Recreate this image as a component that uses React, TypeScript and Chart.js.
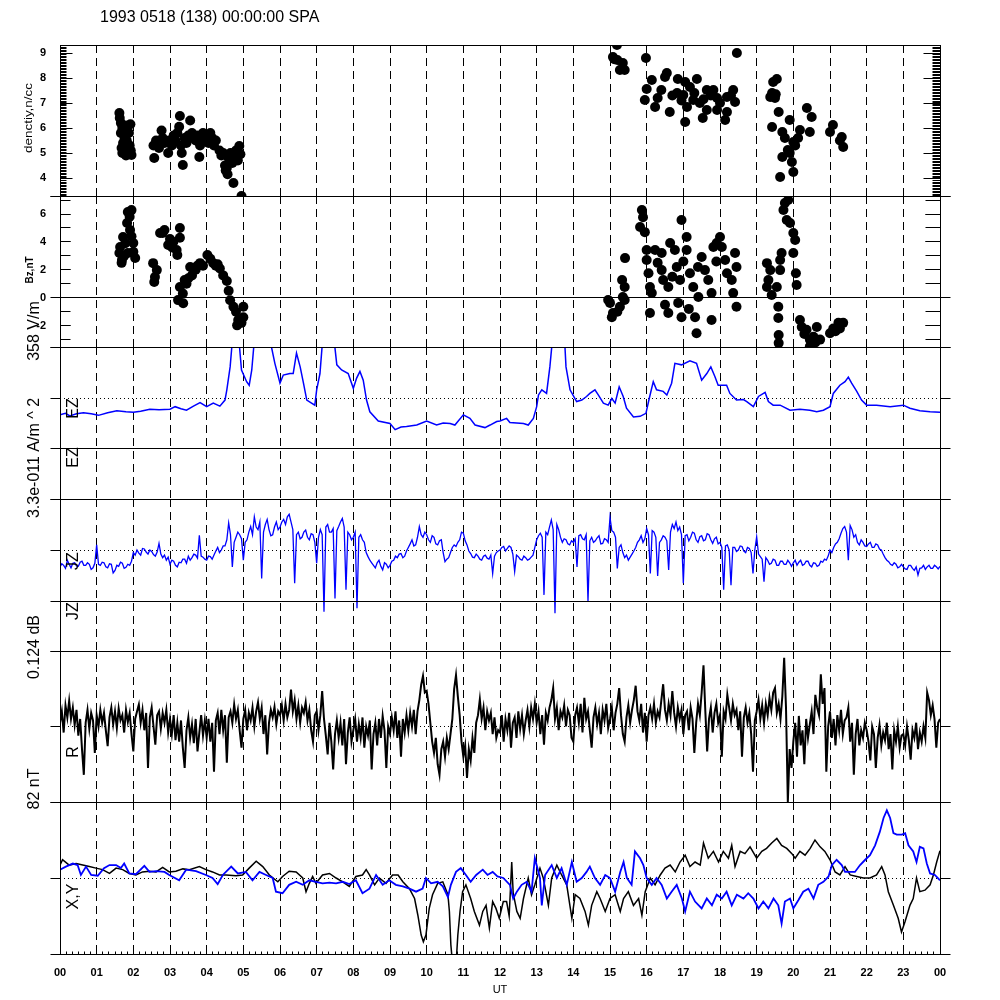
import React, { useEffect, useRef } from 'react';
import { Chart, registerables } from 'chart.js';

Chart.register(...registerables);

// ---------------- text & ticks ----------------
const TITLE = '1993 0518 (138) 00:00:00 SPA';
const HOUR_LABELS = ['00', '01', '02', '03', '04', '05', '06', '07', '08', '09', '10', '11', '12',
  '13', '14', '15', '16', '17', '18', '19', '20', '21', '22', '23', '00'];
const DENSITY_TICKS = [4, 5, 6, 7, 8, 9];
const BZ_TICKS = [-2, 0, 2, 4, 6];

// ---------------- data ----------------
// density, n/cc : [UT hour, value]
const densityPoints: [number, number][] = [
  [1.62, 6.6], [1.63, 6.4], [1.66, 6.2], [1.7, 6.0], [1.76, 6.1], [1.86, 6.1], [1.92, 6.15], [1.66, 5.8],
  [1.76, 5.6], [1.72, 5.4], [1.68, 5.2], [1.76, 5.0], [1.8, 4.9], [1.9, 5.3], [1.93, 5.1], [1.88, 5.8],
  [1.82, 5.5], [1.95, 4.92], [1.86, 4.95], [1.7, 5.0],
  [2.57, 4.8], [2.55, 5.3], [2.62, 5.5], [2.7, 5.2], [2.77, 5.9], [2.8, 5.6], [2.85, 5.4], [2.95, 5.0],
  [2.98, 5.5], [3.05, 5.3], [3.1, 5.7], [3.15, 5.5], [3.2, 5.8], [3.25, 6.05], [3.27, 6.48], [3.3, 5.3],
  [3.35, 4.52], [3.32, 5.0], [3.4, 5.6], [3.55, 6.3], [3.45, 5.4],
  [3.5, 5.7], [3.6, 5.8], [3.65, 5.6], [3.7, 5.5], [3.75, 5.7], [3.8, 4.84], [3.82, 5.3], [3.9, 5.8],
  [3.95, 5.5], [4.0, 5.7], [4.05, 5.4], [4.1, 5.8], [4.15, 5.6], [4.2, 5.3], [3.85, 5.55], [4.25, 5.5],
  [4.35, 5.1], [4.4, 4.9], [4.45, 5.0], [4.5, 4.5], [4.52, 4.3], [4.57, 4.15], [4.6, 4.8], [4.65, 5.0],
  [4.7, 4.6], [4.73, 3.8], [4.75, 4.9], [4.8, 5.1], [4.85, 4.7], [4.89, 5.28], [4.92, 4.95], [4.95, 3.28],
  [4.55, 4.4], [4.68, 4.95],
  [15.19, 9.32], [15.08, 8.84], [15.2, 8.72], [15.35, 8.6], [15.4, 8.32], [15.27, 8.32], [15.12, 8.75],
  [15.98, 8.8], [18.46, 9.0],
  [16.14, 7.92], [16.0, 7.56], [15.95, 7.12], [16.23, 6.84], [16.55, 8.2], [16.5, 8.04], [16.4, 7.52],
  [16.63, 6.64], [16.85, 7.96], [17.05, 7.84], [17.37, 7.96], [17.0, 7.32], [17.05, 6.24], [17.1, 6.84],
  [17.27, 7.12], [17.53, 6.4], [17.45, 7.0], [17.64, 7.52], [17.82, 7.52], [17.92, 7.2], [17.92, 6.72],
  [18.14, 6.32], [18.19, 6.64], [18.36, 7.52], [18.41, 7.04], [18.19, 7.24], [17.64, 6.72], [16.83, 7.4],
  [17.18, 7.64], [16.7, 7.3], [16.95, 7.1], [17.3, 7.4], [17.75, 7.3], [18.0, 7.0], [18.3, 7.3],
  [16.3, 7.2], [17.55, 7.15],
  [19.45, 7.84], [19.55, 7.96], [19.42, 7.4], [19.5, 7.2], [19.37, 7.24], [19.52, 7.35],
  [19.6, 6.64], [19.42, 6.04], [19.7, 5.84], [19.9, 6.32], [19.77, 5.6], [20.0, 5.44], [19.85, 5.12],
  [19.7, 4.84], [19.64, 4.04], [20.0, 4.24], [19.96, 4.64], [20.18, 5.92], [20.13, 5.6], [20.37, 6.8],
  [20.5, 6.44], [20.45, 5.84], [21.0, 5.84], [21.08, 6.12], [21.32, 5.64], [21.36, 5.24], [21.27, 5.5],
  [19.9, 5.0], [20.05, 5.3],
];

// Bz, nT : [UT hour, value]
const bzPoints: [number, number][] = [
  [1.85, 6.14], [1.95, 6.28], [1.83, 5.35], [1.9, 5.8], [1.72, 4.35], [1.64, 3.63], [1.69, 2.7], [2.0, 3.92],
  [2.05, 2.85], [1.91, 4.85], [1.85, 3.2], [1.62, 3.2], [1.75, 3.0], [1.78, 3.9], [1.95, 4.4], [2.0, 3.3],
  [1.68, 2.5],
  [2.54, 2.48], [2.59, 1.48], [2.64, 1.98], [2.57, 1.13], [2.73, 4.64], [2.8, 4.64], [2.95, 3.78],
  [3.18, 3.42], [3.27, 5.0], [3.27, 4.3], [3.09, 4.0], [2.85, 4.85], [3.06, 3.6], [3.2, 3.06], [3.0, 4.2],
  [3.22, -0.17], [3.36, -0.4], [3.27, 0.77], [3.4, 1.27], [3.35, 0.3], [3.45, 1.0], [3.55, 2.2], [3.6, 1.6],
  [3.7, 2.0], [3.82, 2.48], [3.9, 2.3], [4.02, 3.06], [4.1, 2.8], [4.18, 2.48], [4.25, 2.3], [4.36, 2.1],
  [4.45, 1.6], [4.55, 1.2], [4.6, 0.5], [4.64, -0.18], [4.73, -0.65], [4.8, -1.0], [4.86, -1.6],
  [4.83, -1.98], [5.0, -0.65], [5.0, -1.4], [4.95, -1.8], [3.5, 1.4], [4.3, 2.4], [3.75, 2.3],
  [15.0, -0.37], [15.08, -1.1], [15.27, -0.65], [15.4, -0.16], [14.95, -0.16], [15.33, 1.27], [15.4, 0.77],
  [15.35, 0.05], [15.05, -1.4], [15.2, -1.0], [15.41, 2.84],
  [15.87, 6.29], [15.82, 5.07], [15.95, 4.7], [15.9, 5.77],
  [16.0, 3.42], [16.0, 2.7], [16.05, 1.76], [16.09, 0.77], [16.14, 0.34], [16.09, -1.1], [16.23, 3.42],
  [16.41, 3.2], [16.41, 1.98], [16.45, 1.27], [16.59, 0.77], [16.59, -1.1], [16.64, 3.92], [16.77, 3.42],
  [16.82, 2.2], [16.91, 1.27], [16.95, 5.57], [16.86, -0.37], [16.95, -1.4], [17.09, 4.35], [17.09, 3.42],
  [17.18, 1.76], [17.27, 0.77], [17.32, -1.4], [17.36, -2.55], [17.41, 0.05], [17.5, 2.92], [17.59, 1.98],
  [17.68, 1.27], [17.77, -1.6], [17.77, 0.34], [17.82, 3.63], [17.91, 3.92], [18.0, 4.35], [18.05, 3.63],
  [18.14, 2.7], [18.19, 1.76], [18.32, 1.27], [18.36, 0.34], [18.45, -0.65], [18.41, 3.2], [18.45, 2.2],
  [16.3, 2.5], [16.7, 1.5], [17.0, 2.6], [17.4, 2.2], [17.9, 2.6], [16.5, -0.5], [17.15, -0.8],
  [19.28, 2.48], [19.37, 1.98], [19.28, 0.77], [19.41, 0.2], [19.64, 1.98], [19.68, 3.2], [19.64, 2.7],
  [19.59, -0.65], [19.59, -1.45], [19.6, -2.67], [19.6, -3.25], [19.32, 1.27], [19.55, 0.77],
  [19.77, 6.79], [19.86, 7.0], [19.73, 6.29], [19.82, 5.57], [19.91, 5.35], [20.0, 4.64], [20.05, 4.14],
  [20.0, 3.2], [20.07, 1.76], [20.09, 0.91],
  [20.18, -1.6], [20.23, -2.1], [20.36, -2.3], [20.45, -3.0], [20.64, -2.1], [20.55, -2.8], [20.73, -3.0],
  [20.45, -3.5], [20.3, -2.6], [20.6, -3.2],
  [21.0, -2.55], [21.09, -2.2], [21.23, -1.8], [21.36, -1.8], [21.27, -2.2], [21.15, -2.4],
];

// EZ (relative units, 100 = panel top) : [UT hour, value]
const ezPoints: [number, number][] = [
  [0, -33], [0.15, -30], [0.27, -35], [0.45, -31], [0.64, -29], [0.85, -31], [1.05, -34], [1.3, -29],
  [1.55, -25], [1.8, -27], [2.0, -28], [2.2, -26], [2.45, -22], [2.7, -23], [3.0, -22], [3.14, -17],
  [3.3, -21], [3.45, -24], [3.64, -16], [3.82, -9], [4.0, -17], [4.18, -10], [4.36, -16], [4.5, -4],
  [4.55, 16], [4.64, 61], [4.68, 95], [4.72, 130], [4.86, 130], [4.95, 55], [5.09, 32], [5.16, 25],
  [5.23, 55], [5.32, 130], [5.68, 130], [5.86, 68], [6.0, 29], [6.09, 45], [6.27, 48], [6.36, 48],
  [6.45, 88], [6.55, 61], [6.64, 29], [6.73, -4], [6.86, -10], [6.95, -14], [7.0, 16], [7.09, 48],
  [7.18, 130], [7.45, 130], [7.55, 65], [7.68, 55], [7.86, 48], [8.0, 19], [8.09, 39], [8.18, 52],
  [8.27, 35], [8.36, -4], [8.45, -27], [8.68, -45], [9.0, -50], [9.14, -62], [9.3, -57], [9.45, -56],
  [9.73, -53], [10.0, -45], [10.27, -53], [10.45, -49], [10.64, -50], [10.77, -53], [11.0, -33],
  [11.18, -40], [11.32, -53], [11.59, -58], [11.73, -53], [11.91, -46], [12.0, -45], [12.18, -40],
  [12.27, -48], [12.64, -50], [12.77, -53], [12.91, -40], [13.0, -17], [13.05, 6], [13.14, 16], [13.27, 9],
  [13.36, 61], [13.45, 130], [13.75, 130], [13.8, 61], [13.91, 16], [14.09, -7], [14.23, -4], [14.36, 3],
  [14.45, 9], [14.59, 16], [14.68, 6], [14.82, -10], [14.95, -14], [15.05, -1], [15.14, -10], [15.25, 22],
  [15.36, 3], [15.45, -20], [15.64, -37], [15.82, -36], [15.98, -30], [16.07, -1], [16.18, 32], [16.27, 16],
  [16.45, 13], [16.55, 6], [16.68, 29], [16.77, 68], [16.95, 65], [17.18, 73], [17.36, 68], [17.5, 35],
  [17.64, 48], [17.75, 61], [17.86, 42], [17.95, 25], [18.18, 25], [18.27, 9], [18.45, -4], [18.64, -3],
  [18.73, -7], [18.91, -17], [19.05, 3], [19.23, 11], [19.32, -7], [19.45, -14], [19.64, -14], [19.91, -24],
  [20.18, -22], [20.45, -24], [20.64, -27], [20.82, -24], [21.0, -17], [21.09, 9], [21.27, 25], [21.41, 32],
  [21.5, 41], [21.59, 29], [21.73, 13], [21.86, -4], [22.0, -14], [22.27, -14], [22.64, -17], [23.0, -14],
  [23.18, -20], [23.45, -25], [23.73, -27], [24.0, -28],
];

// JZ (relative units), one sample every 3 minutes from 00 UT
const JZ_STEP_HOURS = 0.05;
const jzValues: number[] = [
  -33, -27, -30, -36, -20, -28, -35, -26, -25, -31, -32, -24, -22, -30, -30, -25, -28, -38, -35, -26,
  10, -28, -30, -24, -25, -33, -35, -27, -28, -45, -40, -30, -32, -24, -26, -36, -34, -28, -30, -22,
  -5, -10, 0, -6, -10, 3, 2, -4, -8, 0, -3, -9, -12, -4, 13, -8, -15, -10, -20, -14,
  -28, -20, -22, -30, -33, -24, -25, -18, -18, -26, -12, -20, -15, -8, -10, -16, 29, -12, -14, -18,
  -20, -12, -13, -18, -10, -2, 5, -5, 0, 8, 8, 20, 53, 30, -33, 15, 25, 35, 30, 22,
  -20, 15, 20, 35, 46, 30, 65, 45, 40, 55, -56, 35, 50, 60, 40, 28, 30, 45, 55, 40,
  45, 55, 60, 50, 65, 70, 55, 40, -65, 30, 35, 22, 25, 35, 39, 25, 20, 32, 30, 15,
  -26, 25, 40, 30, -121, 45, 50, 35, 35, 42, -95, 38, 46, 55, 62, 45, -78, 35, 30, 20,
  25, 35, -114, 25, 30, 20, 15, -5, -13, -20, -25, -30, -35, -25, -20, -32, -39, -25, -28, -35,
  -30, -22, -20, -12, -15, -8, -7, -15, -12, -2, 5, 12, 20, 8, 10, 25, 46, 30, 25, 35,
  30, 20, 15, 28, 25, 12, 10, 18, 20, -5, -23, -18, -15, -5, 5, 10, 7, 15, 20, 35,
  33, 18, 10, -2, -7, -14, -15, -8, -12, -18, -20, -12, -10, -16, -18, -10, -46, -12, -5, -2,
  0, 5, 7, -2, 3, 8, 5, -8, -42, -10, -13, -18, -20, -12, -15, -20, -18, -14, -10, 5,
  20, 28, 33, 25, -88, 35, 30, 45, 59, 40, -124, 50, 40, 25, 15, 22, 20, 12, 10, 18,
  15, 22, -33, 28, 30, 22, 20, 30, -101, 18, 25, 15, 18, 24, 28, 12, 13, 22, 20, 15,
  64, 38, 35, 25, -36, 5, 10, -5, -15, -10, -20, -14, -8, -2, 5, 15, 20, 28, 15, 22,
  42, 30, -46, 38, 35, 25, -51, 15, 20, 28, 25, 18, -39, 35, 50, 42, 55, 38, 45, 30,
  -65, 28, 30, 18, 25, 35, 33, 20, 15, 26, 28, 18, 20, 32, 30, 20, 13, 22, 25, 12,
  15, 5, -78, 8, 10, 0, -69, 5, 5, -3, 0, 8, 7, -2, -5, 5, 3, -5, -46, 0,
  26, -8, -13, -18, -62, -15, -20, -28, -26, -18, -20, -30, -30, -22, -22, -28, -28, -20, -25, -32,
  -25, -20, -30, -24, -20, -30, -28, -22, -22, -30, -33, -25, -26, -32, -30, -22, -24, -18, -20, -12,
  0, -5, 5, 12, 15, 22, 33, 42, 46, 35, -20, 48, 40, 25, 30, 15, 10, 20, 15, 8,
  7, 12, 15, 5, 5, 12, 10, 2, 0, -8, -15, -20, -23, -28, -30, -25, -28, -35, -33, -28,
  -33, -37, -38, -30, -30, -36, -40, -33, -49, -36, -35, -30, -38, -33, -30, -36, -36, -30, -33, -37,
  -32,
];

// R (relative units), one sample every 3 minutes from 00 UT
const R_STEP_HOURS = 0.05;
const rValues: number[] = [
  5, 20, -8, 28, 12, 34, 10, 25, 2, 22, -12, 10, -30, -64, 5, 22, -3, 18, 8, -35,
  15, 0, 22, 5, 18, -5, -26, 12, 25, 3, 20, -2, 24, 8, 15, -8, 22, 6, 18, -10,
  -33, 10, 20, 29, 5, 22, -5, 18, -55, 12, 25, 0, -24, 15, 20, -3, 18, 5, 22, -8,
  10, -10, 15, -18, 5, -20, 8, -28, -55, -5, 12, -15, 3, -22, 10, -33, -8, 15, -12, 8,
  -15, 10, -20, 5, -60, 8, 18, -10, 22, -5, 15, -48, 12, 20, 5, 29, 10, 22, -5, -28,
  10, 22, -5, 18, 8, 25, 0, 20, 32, 10, 25, -10, 15, -37, 5, 22, 12, 26, 3, 20,
  15, 28, 8, 30, 12, 22, 49, 20, 35, 10, 28, 5, 25, 18, 32, 8, 22, -5, -20, 15,
  20, -5, 15, 47, 10, -12, -37, 5, -20, -57, -10, 8, -15, 5, -25, 10, -50, -8, 12, -20,
  -5, 10, -20, 3, -15, 12, -28, 0, -12, 8, -57, -10, 5, -25, 10, -15, 14, -5, -55, 0,
  -10, 12, -5, 20, -15, 8, -40, 10, -8, 15, -5, 18, 0, 22, -10, 20, 35, 55, 67, 45,
  47, 30, 5, -20, -35, -15, -50, -64, -30, -20, -40, -15, -30, -10, 10, 50, 68, 40, 15, -20,
  -40, -25, -68, -30, -45, -15, -35, 5, 15, 36, 10, 25, -5, 20, 8, 18, -10, 12, -15, -5,
  -8, 15, -20, 10, -5, 18, -28, 5, 12, -15, 20, -3, 15, -10, 8, 22, 0, 25, 10, 30,
  5, 20, -10, 15, -24, 18, 8, 25, 35, 51, 10, 25, -5, 20, 12, 28, 0, 22, 15, -15,
  -20, 15, 25, 5, 30, -8, 38, 10, 20, -5, -28, 12, 25, 3, 18, -10, 22, 8, 30, -2,
  10, 25, -5, 18, 30, 51, 15, -10, -20, 12, 28, 5, 22, 35, 54, 20, 8, 30, -8, 18,
  -20, 15, 25, 10, 30, 5, 20, 12, 35, 56, 22, 8, 30, 15, 47, 18, 0, 25, 10, 22,
  -10, 15, 20, -5, 25, 10, -35, 5, 30, 15, 45, 81, 20, -33, 10, 25, -8, 18, 30, 5,
  15, -40, 20, 10, 42, 25, 8, 30, 15, 22, -5, 20, -40, 12, 25, 5, 18, -10, -60, 8,
  20, 35, 10, 28, 5, 30, 15, 38, 22, 45, 51, 18, 30, 10, 40, 91, 25, -100, -30, -55,
  -20, 5, -40, 14, -25, -5, -50, 10, -15, 3, 20, -10, 42, 25, 15, 69, 30, 51, -60, 0,
  20, -15, 10, -25, 15, -5, 22, -10, 8, 12, 25, -20, 5, -64, -10, 10, -25, -5, -15, 5,
  -5, -20, -45, 0, -10, -55, -15, 2, -25, -8, -18, 5, -30, -10, -57, -5, -20, 0, -28, -12,
  -10, -25, 0, -18, -44, -5, -15, 5, -30, -8, -20, 0, -15, 45, 35, 15, 28, 10, -28, 5,
  10,
];

// X (black) and Y (blue) magnetic components (relative units) : [UT hour, value]
const magXPoints: [number, number][] = [
  [0, 17], [0.07, 24], [0.25, 17], [0.44, 19], [0.62, 17], [0.8, 15], [0.98, 13], [1.16, 11], [1.35, 6],
  [1.53, 13], [1.71, 11], [1.89, 6], [2.07, 4], [2.25, 8], [2.44, 9], [2.62, 8], [2.8, 14], [2.98, 8],
  [3.16, 9], [3.35, 12], [3.53, 11], [3.8, 15], [3.98, 11], [4.16, 8], [4.35, 4], [4.53, 4], [4.8, 3],
  [4.98, 4], [5.16, 13], [5.35, 22], [5.53, 15], [5.71, 4], [5.94, -5], [6.07, 2], [6.25, 9], [6.44, 8],
  [6.62, 0], [6.71, -18], [6.8, -7], [6.89, 2], [6.98, -7], [7.16, 4], [7.35, 6], [7.53, 0], [7.71, -5],
  [7.89, -11], [8.07, 2], [8.25, 4], [8.35, 11], [8.44, 4], [8.58, -9], [8.71, 0], [8.89, -7], [9.07, 4],
  [9.22, 4], [9.35, -5], [9.53, -14], [9.67, -27], [9.76, -49], [9.85, -75], [9.91, -84], [9.98, -75],
  [10.07, -40], [10.16, -22], [10.3, -7], [10.44, -5], [10.58, -22], [10.62, -44], [10.66, -88],
  [10.71, -115], [10.8, -115], [10.85, -75], [10.91, -44], [10.98, -18], [11.07, -9], [11.2, -27],
  [11.3, -44], [11.44, -62], [11.53, -44], [11.62, -36], [11.71, -66], [11.8, -31], [11.89, -40],
  [11.98, -53], [12.09, -31], [12.18, -31], [12.25, -50], [12.32, 21], [12.36, -20], [12.46, -44],
  [12.55, -53], [12.64, -27], [12.77, 0], [12.86, -22], [12.95, -9], [13.09, 13], [13.18, 0], [13.32, -36],
  [13.41, 0], [13.55, 17], [13.68, 4], [13.82, -9], [13.96, -53], [14.05, -22], [14.18, -27], [14.32, -44],
  [14.41, -62], [14.5, -36], [14.64, -18], [14.73, -27], [14.87, -44], [15.0, -27], [15.14, -22],
  [15.28, -44], [15.37, -27], [15.5, -18], [15.64, -36], [15.78, -27], [15.87, -49], [15.96, -18],
  [16.1, 0], [16.23, -9], [16.37, 4], [16.5, 13], [16.64, 17], [16.78, 8], [16.91, 21], [17.05, 30],
  [17.18, 15], [17.32, 21], [17.46, 17], [17.55, 46], [17.68, 26], [17.82, 35], [17.96, 21], [18.09, 35],
  [18.23, 26], [18.32, 43], [18.41, 15], [18.55, 35], [18.68, 32], [18.82, 41], [19.0, 26], [19.14, 35],
  [19.27, 39], [19.41, 46], [19.55, 52], [19.68, 43], [19.82, 39], [19.96, 32], [20.05, 26], [20.18, 35],
  [20.32, 30], [20.46, 39], [20.59, 50], [20.73, 41], [20.86, 35], [21.0, 24], [21.14, 8], [21.27, 4],
  [21.41, 15], [21.55, 4], [21.73, 2], [21.91, 0], [22.09, 0], [22.27, 4], [22.41, 15], [22.5, 4],
  [22.59, -18], [22.73, -36], [22.86, -53], [22.95, -71], [23.05, -57], [23.18, -36], [23.27, -27],
  [23.36, 0], [23.45, -18], [23.59, -16], [23.73, -9], [23.82, 4], [23.91, 21], [24.0, 36],
];

const magYPoints: [number, number][] = [
  [0, 11], [0.16, 15], [0.35, 19], [0.48, 17], [0.57, 4], [0.71, 15], [0.85, 4], [1.03, 3], [1.2, 13],
  [1.35, 17], [1.53, 17], [1.66, 13], [1.75, 19], [1.89, 6], [2.07, 5], [2.3, 16], [2.44, 8], [2.62, 9],
  [2.85, 8], [2.98, 4], [3.25, -3], [3.44, 11], [3.71, 9], [3.98, 4], [4.16, 0], [4.3, -8], [4.44, 4],
  [4.67, 15], [4.85, 6], [5.07, 8], [5.25, -3], [5.44, 8], [5.62, 4], [5.8, 0], [5.89, -18], [6.07, -20],
  [6.25, -9], [6.44, -5], [6.62, -9], [6.8, -3], [6.98, -5], [7.16, -7], [7.35, -6], [7.53, -7],
  [7.71, -5], [7.89, -8], [8.07, -3], [8.25, -20], [8.44, -14], [8.62, 4], [8.8, -9], [8.98, -3],
  [9.16, -9], [9.35, -11], [9.53, -14], [9.71, -18], [9.89, -14], [9.98, 0], [10.12, -7], [10.3, -5],
  [10.44, -11], [10.58, -25], [10.66, -9], [10.8, 8], [10.93, 13], [11.07, 4], [11.2, -5], [11.35, 4],
  [11.53, 11], [11.66, 4], [11.8, 8], [11.93, 2],
  [12.09, 0], [12.27, -9], [12.36, -27], [12.46, -18], [12.59, -9], [12.73, -5], [12.86, -18], [12.95, 26],
  [13.09, 0], [13.14, -36], [13.23, 4], [13.41, 17], [13.55, 0], [13.68, 13], [13.82, -9], [13.96, 21],
  [14.09, -5], [14.23, 0], [14.36, 8], [14.45, 15], [14.59, 0], [14.73, -9], [14.87, 4], [15.0, 0],
  [15.14, -18], [15.28, 8], [15.37, 21], [15.46, 0], [15.59, -9], [15.68, 35], [15.82, 26], [15.91, 17],
  [16.0, 0], [16.14, -9], [16.27, 0], [16.41, -9], [16.55, -27], [16.68, -18], [16.82, -9], [16.96, -27],
  [17.05, -44], [17.18, -18], [17.32, -31], [17.5, -40], [17.64, -27], [17.78, -36], [17.91, -22],
  [18.05, -27], [18.18, -18], [18.32, -36], [18.46, -22], [18.64, -27], [18.77, -20], [18.91, -27],
  [19.05, -40], [19.18, -31], [19.32, -40], [19.46, -27], [19.59, -36], [19.68, -60], [19.77, -31],
  [19.91, -27], [20.0, -40], [20.14, -29], [20.27, -18], [20.41, -14], [20.55, -27], [20.68, -9],
  [20.82, -5], [20.96, 2], [21.05, 17], [21.18, 24], [21.32, 17], [21.41, 8], [21.55, 8], [21.68, 8],
  [21.82, 17], [21.96, 24], [22.09, 30], [22.23, 43], [22.36, 61], [22.46, 79], [22.55, 89], [22.64, 79],
  [22.73, 59], [22.82, 57], [22.96, 57], [23.05, 59], [23.14, 43], [23.27, 35], [23.36, 21], [23.45, 41],
  [23.55, 39], [23.64, 19], [23.73, 6], [23.86, 4], [24.0, -3],
];

// ---------------- layout & style ----------------
const FONT = "'Liberation Sans', Arial, Helvetica, sans-serif";
const BLUE = '#0000ff';
const PLOT_LEFT = 60;
const PLOT_RIGHT = 940;
const X_AXIS_HEIGHT = 46;

type TextMark = { text: string; x: number; y: number; size: number; length?: number; bold?: boolean };
type TickSpec = {
  majors: number[]; minorStep: number; minorFrom: number; minorTo: number;
  leftMajor: number; leftMinor: number; rightMajor: number; rightMinor: number;
};
type Panel = {
  top: number; bottom: number; yMin: number; yMax: number;
  datasets: any[]; dotted: number[]; solid: number[]; inner: TextMark[];
  ticks?: TickSpec; first?: boolean; xAxis?: boolean;
};

const SIDE_LABELS: TextMark[] = [
  { text: 'denctiy,n/cc', x: 32, y: 118, size: 10, length: 70 },
  { text: 'Bz,nT', x: 32.5, y: 270, size: 11, bold: true, length: 27 },
  { text: '358 V/m', x: 39, y: 331, size: 16 },
  { text: '3.3e-011 A/m ^ 2', x: 39, y: 458, size: 16 },
  { text: '0.124 dB', x: 39, y: 647, size: 16 },
  { text: '82 nT', x: 39, y: 789, size: 16 },
];

const toXY = (pts: [number, number][]) => pts.map(([x, y]) => ({ x, y }));
const fromSeries = (vals: number[], step: number) => vals.map((y, i) => ({ x: i * step, y }));

const dots = (pts: [number, number][]) => ({
  data: toXY(pts), pointRadius: 5, pointHoverRadius: 5, pointBorderWidth: 0,
  backgroundColor: '#000', borderColor: '#000', showLine: false,
});
const trace = (data: any[], color: string, width: number) => ({
  data, showLine: true, pointRadius: 0, pointHoverRadius: 0, borderColor: color,
  backgroundColor: color, borderWidth: width, tension: 0, fill: false,
});

const PANELS: Panel[] = [
  {
    top: 45, bottom: 196, yMin: 3.28, yMax: 9.32, first: true,
    datasets: [dots(densityPoints)], dotted: [], solid: [], inner: [],
    ticks: { majors: DENSITY_TICKS, minorStep: 0.06, minorFrom: 3.3, minorTo: 9.3, leftMajor: 12, leftMinor: 6, rightMajor: 17, rightMinor: 8 },
  },
  {
    top: 196, bottom: 347, yMin: -3.53, yMax: 7.29,
    datasets: [dots(bzPoints)], dotted: [], solid: [0], inner: [],
    ticks: { majors: BZ_TICKS, minorStep: 1, minorFrom: -3, minorTo: 7, leftMajor: 10, leftMinor: 10, rightMajor: 15, rightMinor: 15 },
  },
  {
    top: 347, bottom: 499, yMin: -198, yMax: 100,
    datasets: [trace(toXY(ezPoints), BLUE, 1.5)], dotted: [0], solid: [-99],
    inner: [{ text: 'EZ', x: 78, y: 408.5, size: 16 }, { text: 'EZ', x: 78, y: 457.5, size: 16 }],
  },
  {
    top: 499, bottom: 651, yMin: -198, yMax: 100,
    datasets: [trace(fromSeries(jzValues, JZ_STEP_HOURS), BLUE, 1.3)], dotted: [0], solid: [-100],
    inner: [{ text: 'JZ', x: 78, y: 561, size: 16 }, { text: 'JZ', x: 78, y: 611, size: 16 }],
  },
  {
    top: 651, bottom: 802, yMin: -100, yMax: 100,
    datasets: [trace(fromSeries(rValues, R_STEP_HOURS), '#000', 2)], dotted: [0], solid: [],
    inner: [{ text: 'R', x: 78, y: 752, size: 16 }],
  },
  {
    top: 802, bottom: 954, yMin: -100, yMax: 100, xAxis: true,
    datasets: [trace(toXY(magYPoints), BLUE, 1.8), trace(toXY(magXPoints), '#000', 1.5)],
    dotted: [0], solid: [],
    inner: [{ text: 'X,Y', x: 78, y: 896.5, size: 16 }],
  },
];

const crisp = (v: number) => Math.floor(v) + 0.5;

function seg(ctx: CanvasRenderingContext2D, x1: number, y1: number, x2: number, y2: number) {
  ctx.beginPath();
  ctx.moveTo(x1, y1);
  ctx.lineTo(x2, y2);
  ctx.stroke();
}

function drawRotated(ctx: CanvasRenderingContext2D, m: TextMark) {
  ctx.save();
  ctx.font = `${m.bold ? 'bold ' : ''}${m.size}px ${FONT}`;
  ctx.translate(m.x, m.y);
  ctx.rotate(-Math.PI / 2);
  if (m.length) {
    const w = ctx.measureText(m.text).width;
    ctx.scale(m.length / w, 1);
  }
  ctx.textAlign = 'center';
  ctx.textBaseline = 'alphabetic';
  ctx.fillStyle = '#000';
  ctx.fillText(m.text, 0, 0);
  ctx.restore();
}

function framePlugin(p: Panel) {
  return {
    id: 'panelFrame',
    beforeDatasetsDraw(chart: any) {
      const { ctx, chartArea: a, scales } = chart;
      const xs = scales.x;
      const ys = scales.y;
      ctx.save();
      ctx.strokeStyle = '#000';
      ctx.lineWidth = 1;
      ctx.setLineDash([8, 5]);
      for (let h = 1; h < 24; h++) {
        const px = crisp(xs.getPixelForValue(h));
        seg(ctx, px, a.top, px, a.bottom);
      }
      ctx.setLineDash([1, 3]);
      for (const v of p.dotted) {
        const py = crisp(ys.getPixelForValue(v));
        seg(ctx, a.left, py, a.right, py);
      }
      ctx.restore();
    },
    afterDatasetsDraw(chart: any) {
      const { ctx, chartArea: a, scales } = chart;
      const xs = scales.x;
      const ys = scales.y;
      const L = crisp(a.left);
      const R = crisp(a.right);
      const T = crisp(a.top);
      const B = crisp(a.bottom);
      ctx.save();
      ctx.strokeStyle = '#000';
      ctx.lineWidth = 1;
      ctx.setLineDash([]);
      seg(ctx, L, a.top, L, a.bottom + 1);
      seg(ctx, R, a.top, R, a.bottom + 1);
      seg(ctx, p.first ? L : L - 10, T, p.first ? R : R + 10, T);
      seg(ctx, L - 10, B, R + 10, B);
      for (const v of p.solid) {
        const py = crisp(ys.getPixelForValue(v));
        seg(ctx, L - 10, py, R + 10, py);
      }
      for (const v of p.dotted) {
        const py = crisp(ys.getPixelForValue(v));
        seg(ctx, L - 10, py, L, py);
        seg(ctx, R, py, R + 10, py);
      }
      if (p.ticks) {
        const t = p.ticks;
        for (let v = t.minorFrom; v <= t.minorTo + 1e-9; v += t.minorStep) {
          const py = crisp(ys.getPixelForValue(v));
          seg(ctx, L, py, L + t.leftMinor, py);
          seg(ctx, R, py, R - t.rightMinor, py);
        }
        for (const v of t.majors) {
          const py = crisp(ys.getPixelForValue(v));
          seg(ctx, L, py, L + t.leftMajor, py);
          seg(ctx, R, py, R - t.rightMajor, py);
        }
      }
      if (p.xAxis) {
        for (let m = 1; m < 144; m++) {
          const px = crisp(xs.getPixelForValue(m / 6));
          seg(ctx, px, B, px, B - (m % 6 === 0 ? 5 : 3));
        }
      }
      for (const m of p.inner) drawRotated(ctx, m);
      if (p.first) {
        for (const m of SIDE_LABELS) drawRotated(ctx, m);
        ctx.font = `16px ${FONT}`;
        ctx.fillStyle = '#000';
        ctx.textAlign = 'left';
        ctx.textBaseline = 'alphabetic';
        ctx.fillText(TITLE, 100, 22);
      }
      ctx.restore();
    },
  };
}

function buildConfig(p: Panel): any {
  const tickFont = { family: FONT, size: 11, weight: 'bold' };
  const xScale: any = {
    type: 'linear', min: 0, max: 24, display: !!p.xAxis,
    grid: { display: false }, border: { display: false },
  };
  if (p.xAxis) {
    xScale.afterFit = (s: any) => { s.height = X_AXIS_HEIGHT; };
    xScale.afterBuildTicks = (s: any) => { s.ticks = HOUR_LABELS.map((_, i) => ({ value: i })); };
    xScale.ticks = {
      autoSkip: false, maxRotation: 0, minRotation: 0, padding: 4, color: '#000',
      font: { family: FONT, size: 11, weight: 'bold' },
      callback: (_v: any, i: number) => HOUR_LABELS[i],
    };
    xScale.title = {
      display: true, text: 'UT', color: '#000',
      font: { family: FONT, size: 11 }, padding: { top: 0, bottom: 3 },
    };
  }
  const yScale: any = {
    type: 'linear', min: p.yMin, max: p.yMax, display: !!p.ticks,
    grid: { display: false }, border: { display: false },
  };
  if (p.ticks) {
    const majors = p.ticks.majors;
    yScale.afterFit = (s: any) => { s.width = PLOT_LEFT; };
    yScale.afterBuildTicks = (s: any) => { s.ticks = majors.map((v) => ({ value: v })); };
    yScale.ticks = { padding: 6, color: '#000', font: tickFont, callback: (v: any) => String(v) };
  }
  return {
    type: 'scatter',
    data: { datasets: p.datasets },
    options: {
      responsive: false,
      maintainAspectRatio: false,
      animation: false,
      events: [],
      layout: {
        padding: {
          top: p.top,
          bottom: 1000 - p.bottom - (p.xAxis ? X_AXIS_HEIGHT : 0),
          left: p.ticks ? 0 : PLOT_LEFT,
          right: 1000 - PLOT_RIGHT,
        },
      },
      plugins: { legend: { display: false }, tooltip: { enabled: false }, title: { display: false } },
      scales: { x: xScale, y: yScale },
    },
    plugins: [framePlugin(p)],
  };
}

export default function App() {
  const refs = useRef<(HTMLCanvasElement | null)[]>([]);
  useEffect(() => {
    const charts = PANELS.map((p, i) => new Chart(refs.current[i] as HTMLCanvasElement, buildConfig(p)));
    return () => { charts.forEach((c) => c.destroy()); };
  }, []);
  return (
    <div style={{ position: 'absolute', left: 0, top: 0, width: 1000, height: 1000, background: '#fff' }}>
      {PANELS.map((_, i) => (
        <canvas
          key={i}
          ref={(el) => { refs.current[i] = el; }}
          width={1000}
          height={1000}
          style={{ position: 'absolute', left: 0, top: 0, width: 1000, height: 1000 }}
        />
      ))}
    </div>
  );
}
